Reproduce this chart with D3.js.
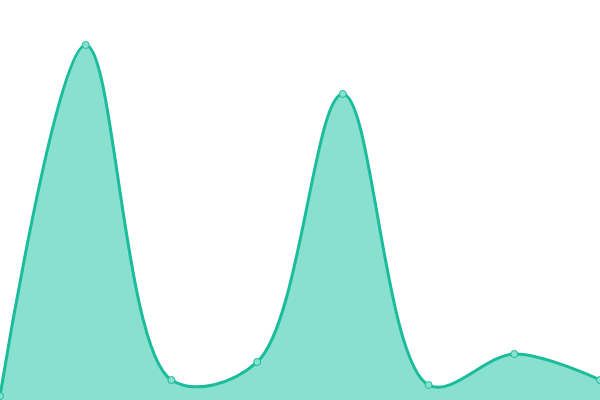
<!DOCTYPE html>
<html>
<head>
<meta charset="utf-8">
<script src="https://cdn.jsdelivr.net/npm/d3@7"></script>
<style>
  body { margin: 0; background: #fff; }
  svg { display: block; }
</style>
</head>
<body>
<div class="chart"></div>
<script>
var width = 600, height = 400;

// one value per point, evenly spaced
var labels = ["1", "2", "3", "4", "5", "6", "7", "8"];
var values = [4, 355, 20, 38, 306, 15, 46, 20];

var svg = d3.select(".chart").append("svg")
    .attr("width", width)
    .attr("height", height);

var x = d3.scalePoint().domain(labels).range([0, width]);
var y = d3.scaleLinear().domain([0, 400]).range([height, 0]);

var pts = labels.map(function(l, i) { return { label: l, value: values[i] }; });

var area = d3.area()
    .x(function(d) { return x(d.label); })
    .y0(height)
    .y1(function(d) { return y(d.value); })
    .curve(d3.curveCatmullRom);

var line = d3.line()
    .x(function(d) { return x(d.label); })
    .y(function(d) { return y(d.value); })
    .curve(d3.curveCatmullRom);

svg.append("path")
    .datum(pts)
    .attr("d", area)
    .attr("fill", "#89e0cf");

svg.append("path")
    .datum(pts)
    .attr("d", line)
    .attr("fill", "none")
    .attr("stroke", "#1abc9c")
    .attr("stroke-width", 3);

svg.selectAll("circle")
    .data(pts)
    .enter().append("circle")
    .attr("cx", function(d) { return x(d.label); })
    .attr("cy", function(d) { return y(d.value); })
    .attr("r", 3.5)
    .attr("fill", "#89e0cf")
    .attr("stroke", "#1abc9c")
    .attr("stroke-width", 1);
</script>
</body>
</html>
